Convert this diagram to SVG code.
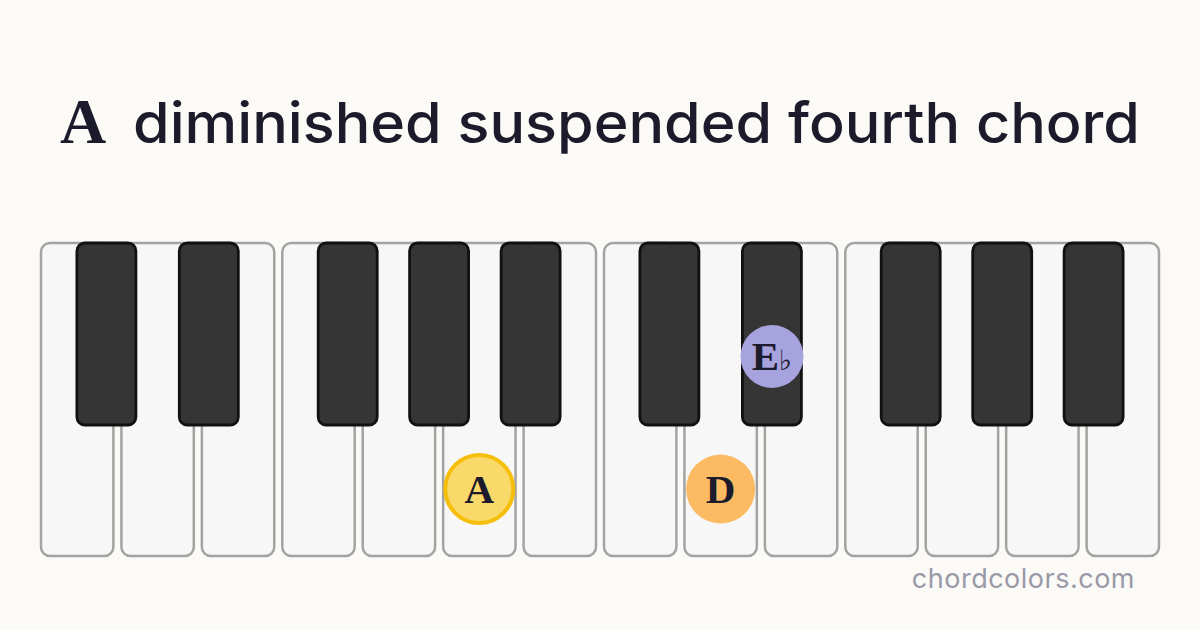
<svg xmlns="http://www.w3.org/2000/svg" width="1200" height="630" viewBox="0 0 1200 630">
<style>
.w{fill:#f7f7f7;stroke:#a3a3a3;stroke-width:2.5}
.b{fill:#353535;stroke:#111111;stroke-width:2.8}
.ser{font-family:"Liberation Serif","DejaVu Serif",serif;font-weight:bold;fill:#1c1b2b}
.sans{font-family:"Inter","Open Sans","Liberation Sans",sans-serif;fill:#1c1b2b;font-weight:500}
.note{font-family:"Liberation Serif","DejaVu Serif",serif;font-weight:bold;fill:#1c1b2b;font-size:41px;text-anchor:middle}
</style>
<rect width="1200" height="630" fill="#fbfaf6"/>
<g id="title">
<text x="60" y="143" class="ser" font-size="64">A</text>
<text x="133" y="143" class="sans" font-size="56" textLength="1007" lengthAdjust="spacingAndGlyphs">diminished suspended fourth chord</text>
</g>
<g id="white-keys">
<rect class="w" x="41" y="243" width="72.4" height="313" rx="9"/>
<rect class="w" x="121.43" y="243" width="72.4" height="313" rx="9"/>
<rect class="w" x="201.86" y="243" width="72.4" height="313" rx="9"/>
<rect class="w" x="282.29" y="243" width="72.4" height="313" rx="9"/>
<rect class="w" x="362.72" y="243" width="72.4" height="313" rx="9"/>
<rect class="w" x="443.15" y="243" width="72.4" height="313" rx="9"/>
<rect class="w" x="523.58" y="243" width="72.4" height="313" rx="9"/>
<rect class="w" x="604.01" y="243" width="72.4" height="313" rx="9"/>
<rect class="w" x="684.44" y="243" width="72.4" height="313" rx="9"/>
<rect class="w" x="764.87" y="243" width="72.4" height="313" rx="9"/>
<rect class="w" x="845.3" y="243" width="72.4" height="313" rx="9"/>
<rect class="w" x="925.73" y="243" width="72.4" height="313" rx="9"/>
<rect class="w" x="1006.16" y="243" width="72.4" height="313" rx="9"/>
<rect class="w" x="1086.59" y="243" width="72.4" height="313" rx="9"/>
</g>
<g id="black-keys">
<rect class="b" x="76.9" y="243" width="59" height="182" rx="8"/>
<rect class="b" x="179.3" y="243" width="59" height="182" rx="8"/>
<rect class="b" x="318.2" y="243" width="59" height="182" rx="8"/>
<rect class="b" x="409.6" y="243" width="59" height="182" rx="8"/>
<rect class="b" x="501.1" y="243" width="59" height="182" rx="8"/>
<rect class="b" x="639.9" y="243" width="59" height="182" rx="8"/>
<rect class="b" x="742.4" y="243" width="59" height="182" rx="8"/>
<rect class="b" x="881.2" y="243" width="59" height="182" rx="8"/>
<rect class="b" x="972.7" y="243" width="59" height="182" rx="8"/>
<rect class="b" x="1064.1" y="243" width="59" height="182" rx="8"/>
</g>
<g id="note-A">
<circle cx="479.3" cy="489" r="34" fill="#f8d96a" stroke="#f5be0a" stroke-width="4"/>
<text x="479.3" y="503" class="note">A</text>
</g>
<g id="note-D">
<circle cx="720.6" cy="489" r="34.5" fill="#fcbb63"/>
<text x="720.6" y="503" class="note">D</text>
</g>
<g id="note-Eb">
<circle cx="772" cy="356.5" r="31.5" fill="#a7a3df"/>
<text x="772" y="370" class="note" font-size="39">E<tspan font-size="28" font-weight="normal" font-family="DejaVu Sans,sans-serif">♭</tspan></text>
</g>
<text x="1135" y="588" text-anchor="end" font-family="Inter,'Open Sans','Liberation Sans',sans-serif" font-size="27" fill="#9a99a8" letter-spacing="0.5">chordcolors.com</text>
</svg>
